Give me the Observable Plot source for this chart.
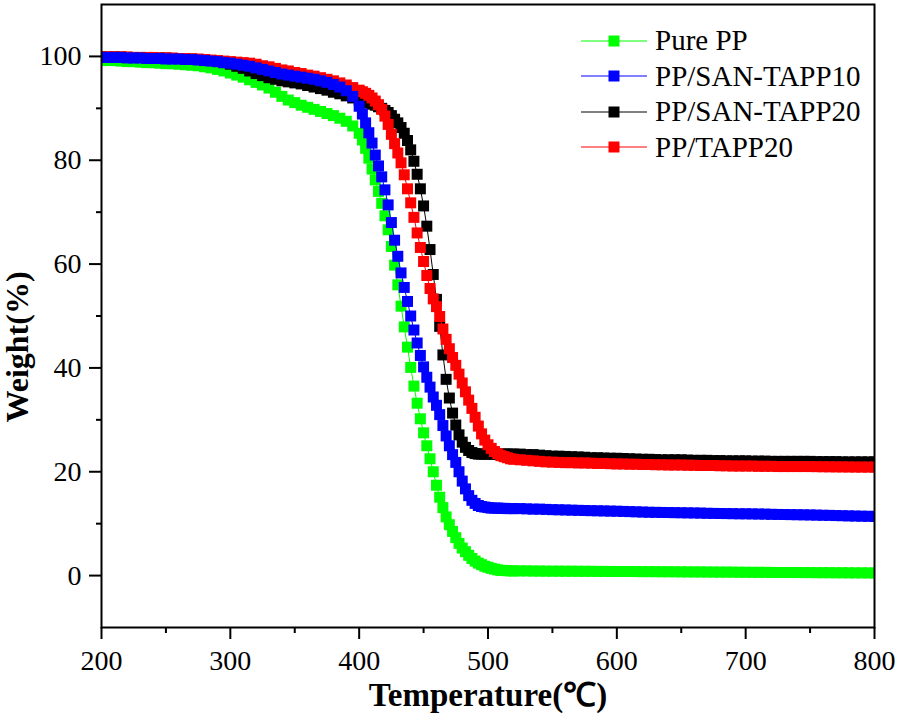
<!DOCTYPE html>
<html>
<head>
<meta charset="utf-8">
<script src="https://cdn.jsdelivr.net/npm/d3@7"></script>
<script src="https://cdn.jsdelivr.net/npm/@observablehq/plot@0.6"></script>
<style>
  html, body { margin: 0; padding: 0; background: #fff; }
  #wrap { position: relative; width: 898px; height: 725px; font-family: 'Liberation Serif', 'Times New Roman', serif; }
  #wrap svg text { font-family: 'Liberation Serif', 'Times New Roman', serif; }
  #legend { position: absolute; left: 581px; top: 23px; }
  .row { display: flex; align-items: center; height: 35.5px; }
  .row span { font-size: 29px; margin-left: 8px; line-height: 1; color: #000; }
</style>
</head>
<body>
<div id="wrap"><div id="legend"></div></div>
<script>
// ---- data ----
const seriesNames = ["Pure PP", "PP/SAN-TAPP10", "PP/SAN-TAPP20", "PP/TAPP20"];
const seriesColors = ["#00ff00", "#0000ff", "#000000", "#ff0000"];
// drawing order (bottom to top)
const drawOrder = ["Pure PP", "PP/SAN-TAPP20", "PP/TAPP20", "PP/SAN-TAPP10"];

const xMajorTicks = [200, 300, 400, 500, 600, 700, 800];
const xMinorTicks = [250, 350, 450, 550, 650, 750];
const yMajorTicks = [0, 20, 40, 60, 80, 100];
const yMinorTicks = [10, 30, 50, 70, 90];

const temps = [
  200,205,210,215,220,225,230,235,240,245,250,255,260,265,270,275,280,285,290,295,
  300,305,310,315,320,325,330,335,340,345,350,355,360,365,370,375,380,385,390,395,400,
  402.5,405,407.5,410,412.5,415,417.5,420,422.5,425,427.5,430,432.5,435,437.5,440,
  442.5,445,447.5,450,452.5,455,457.5,460,462.5,465,467.5,470,472.5,475,477.5,480,
  482.5,485,487.5,490,492.5,495,497.5,500,502.5,505,507.5,510,512.5,515,517.5,520,
  525,530,535,540,545,550,555,560,565,570,575,580,585,590,595,600,605,610,615,620,
  625,630,635,640,645,650,655,660,665,670,675,680,685,690,695,700,705,710,715,720,
  725,730,735,740,745,750,755,760,765,770,775,780,785,790,795,800
];

const purePP = [
  99.3,99.2,99.2,99.1,99.0,99.0,98.9,98.8,98.8,98.7,98.6,98.6,98.5,98.4,98.3,98.2,98.0,97.8,97.5,97.2,
  96.8,96.4,96.0,95.5,95.0,94.5,93.9,93.1,92.3,91.6,91.1,90.6,90.2,89.8,89.4,89.0,88.6,88.1,87.5,86.6,85.2,
  83.9,82.3,80.4,78.3,76.2,74.0,71.7,69.3,66.6,63.4,59.8,56.0,51.9,47.9,44.0,40.1,
  36.5,33.2,30.2,27.5,25.0,22.5,20.0,17.4,15.1,13.1,11.3,9.8,8.5,7.3,6.2,5.3,
  4.6,3.9,3.3,2.8,2.4,2.1,1.8,1.6,1.4,1.25,1.1,1.0,1.0,0.95,0.9,0.9,
  0.9,0.9,0.88,0.87,0.86,0.85,0.85,0.84,0.84,0.83,0.82,0.82,0.81,0.8,0.8,0.79,0.78,0.78,0.77,0.76,
  0.76,0.75,0.74,0.74,0.73,0.72,0.71,0.71,0.7,0.69,0.68,0.67,0.67,0.66,0.65,0.64,0.63,0.63,0.62,0.61,
  0.6,0.6,0.59,0.58,0.58,0.57,0.56,0.56,0.55,0.54,0.54,0.53,0.52,0.52,0.51,0.5
];

const sanTapp10 = [
  99.8,99.8,99.8,99.8,99.7,99.7,99.7,99.6,99.6,99.6,99.5,99.5,99.5,99.4,99.4,99.3,99.2,99.1,99.0,98.8,
  98.7,98.5,98.3,98.1,97.8,97.5,97.2,96.9,96.6,96.4,96.2,96.0,95.8,95.6,95.3,95.0,94.6,94.1,93.4,92.3,90.4,
  88.9,87.2,85.3,83.3,81.0,78.9,76.8,74.3,71.4,68.0,64.6,61.5,58.3,55.5,52.8,50.0,
  47.3,44.8,42.4,40.2,38.2,36.3,34.4,32.8,31.0,28.9,26.9,25.0,23.3,21.8,20.0,18.2,
  16.7,15.4,14.5,13.9,13.5,13.3,13.2,13.1,13.0,13.0,13.0,12.95,12.95,12.9,12.9,12.9,
  12.9,12.85,12.8,12.8,12.75,12.7,12.67,12.64,12.6,12.57,12.54,12.5,12.48,12.45,12.42,12.4,12.36,12.32,12.28,12.24,
  12.2,12.18,12.16,12.14,12.12,12.1,12.08,12.06,12.04,12.0,11.98,11.96,11.94,11.92,11.9,11.9,11.88,11.86,11.84,11.8,
  11.78,11.76,11.74,11.72,11.7,11.68,11.65,11.62,11.6,11.56,11.53,11.5,11.47,11.44,11.42,11.4
];

const sanTapp20 = [
  99.9,99.9,99.9,99.9,99.8,99.8,99.8,99.8,99.7,99.7,99.7,99.6,99.6,99.5,99.5,99.4,99.3,99.2,99.0,98.8,
  98.5,98.1,97.7,97.2,96.7,96.3,95.9,95.6,95.3,95.1,94.9,94.7,94.4,94.1,93.8,93.5,93.1,92.8,92.4,92.0,91.6,
  91.4,91.2,91.0,90.8,90.6,90.3,90.0,89.6,89.2,88.6,87.9,87.2,86.3,85.2,83.8,82.0,
  79.8,77.3,74.5,71.2,67.3,62.8,58.0,53.2,48.0,42.5,37.8,34.2,31.3,29.0,27.1,25.7,
  24.7,24.1,23.7,23.5,23.4,23.4,23.4,23.4,23.4,23.4,23.4,23.4,23.4,23.4,23.4,23.4,
  23.4,23.3,23.3,23.2,23.1,23.0,23.0,22.95,22.9,22.85,22.8,22.7,22.7,22.65,22.6,22.6,22.55,22.5,22.45,22.4,
  22.4,22.35,22.3,22.3,22.3,22.3,22.25,22.2,22.2,22.2,22.15,22.15,22.1,22.1,22.1,22.1,22.05,22.05,22.05,22.0,
  22.0,22.0,22.0,22.0,22.0,22.0,21.95,21.95,21.95,21.95,21.9,21.9,21.9,21.9,21.9,21.9
];

const tapp20 = [
  99.9,99.9,99.9,99.9,99.9,99.8,99.8,99.8,99.8,99.7,99.7,99.7,99.6,99.6,99.5,99.5,99.4,99.3,99.2,99.1,
  99.0,98.9,98.8,98.7,98.5,98.2,98.0,97.7,97.4,97.2,96.9,96.7,96.4,96.2,95.9,95.6,95.3,94.9,94.5,94.0,93.5,
  93.2,92.9,92.5,92.0,91.4,90.7,89.8,88.5,86.9,85.0,83.2,81.4,79.5,77.2,74.5,71.8,
  69.0,66.0,63.2,60.5,57.8,55.3,53.3,51.8,49.9,47.5,45.5,43.7,42.0,40.5,38.8,37.1,
  35.4,33.8,32.2,30.5,28.8,27.3,26.1,25.2,24.5,23.9,23.5,23.1,22.9,22.7,22.5,22.4,
  22.3,22.2,22.1,22.0,21.9,21.85,21.8,21.75,21.75,21.7,21.7,21.65,21.6,21.6,21.55,21.5,21.5,21.45,21.45,21.4,
  21.4,21.35,21.35,21.3,21.3,21.3,21.25,21.25,21.2,21.2,21.2,21.15,21.15,21.1,21.1,21.1,21.1,21.05,21.05,21.05,
  21.0,21.0,21.0,21.0,21.0,21.0,20.98,20.96,20.95,20.94,20.93,20.92,20.91,20.9,20.9,20.9
];

const weightsByName = {
  "Pure PP": purePP,
  "PP/SAN-TAPP10": sanTapp10,
  "PP/SAN-TAPP20": sanTapp20,
  "PP/TAPP20": tapp20
};

for (const n of seriesNames) {
  if (weightsByName[n].length !== temps.length) throw new Error(n + " length " + weightsByName[n].length + " vs " + temps.length);
}

const colorOf = name => seriesColors[seriesNames.indexOf(name)];

const seriesMarks = [];
for (const name of drawOrder) {
  const rows = temps.map((t, i) => ({T: t, W: weightsByName[name][i]}));
  seriesMarks.push(Plot.line(rows, {x: "T", y: "W", stroke: colorOf(name), strokeWidth: 1, clip: true}));
  seriesMarks.push(Plot.dot(rows, {x: "T", y: "W", symbol: "square", r: 6.2, fill: colorOf(name), stroke: "none", clip: true}));
}

const serif = "'Liberation Serif', 'Times New Roman', serif";

const chart = Plot.plot({
  width: 898,
  height: 725,
  marginLeft: 101,
  marginRight: 24,
  marginTop: 4,
  marginBottom: 98,
  style: {fontFamily: serif, fontSize: "28px", background: "white", color: "black"},
  x: {domain: [200, 800]},
  y: {domain: [-10, 110]},
  marks: [
    ...seriesMarks,
    Plot.axisX(xMinorTicks, {tickSize: 6, strokeWidth: 2, tickFormat: () => "", label: null}),
    Plot.axisX(xMajorTicks, {tickSize: 12, strokeWidth: 2, tickPadding: 11, fontSize: 28, fontFamily: serif, label: null, tickFormat: d => String(d)}),
    Plot.axisY(yMinorTicks, {tickSize: 5, strokeWidth: 2, tickFormat: () => "", label: null}),
    Plot.axisY(yMajorTicks, {tickSize: 12, strokeWidth: 2, tickPadding: 8, fontSize: 28, fontFamily: serif, label: null, tickFormat: d => String(d)}),
    Plot.frame({stroke: "black", strokeWidth: 2}),
    Plot.text(["Temperature(℃)"], {text: d => d, frameAnchor: "bottom", dy: 78, fontWeight: "bold", fontSize: 33, fontFamily: serif}),
    Plot.text(["Weight(%)"], {text: d => d, frameAnchor: "left", textAnchor: "middle", lineAnchor: "middle", rotate: -90, dx: -84, dy: 31, fontWeight: "bold", fontSize: 32, fontFamily: serif})
  ]
});

const wrap = document.getElementById("wrap");
wrap.insertBefore(chart, wrap.firstChild);

// legend overlay
const legend = document.getElementById("legend");
for (let i = 0; i < seriesNames.length; i++) {
  const row = document.createElement("div");
  row.className = "row";
  const c = seriesColors[i];
  row.innerHTML =
    `<svg width="66" height="20" viewBox="0 0 66 20"><line x1="0" y1="10" x2="66" y2="10" stroke="${c}" stroke-width="1"/>` +
    `<rect x="27.5" y="4.5" width="11" height="11" fill="${c}"/></svg>`;
  const s = document.createElement("span");
  s.textContent = seriesNames[i];
  row.appendChild(s);
  legend.appendChild(row);
}
</script>
</body>
</html>
